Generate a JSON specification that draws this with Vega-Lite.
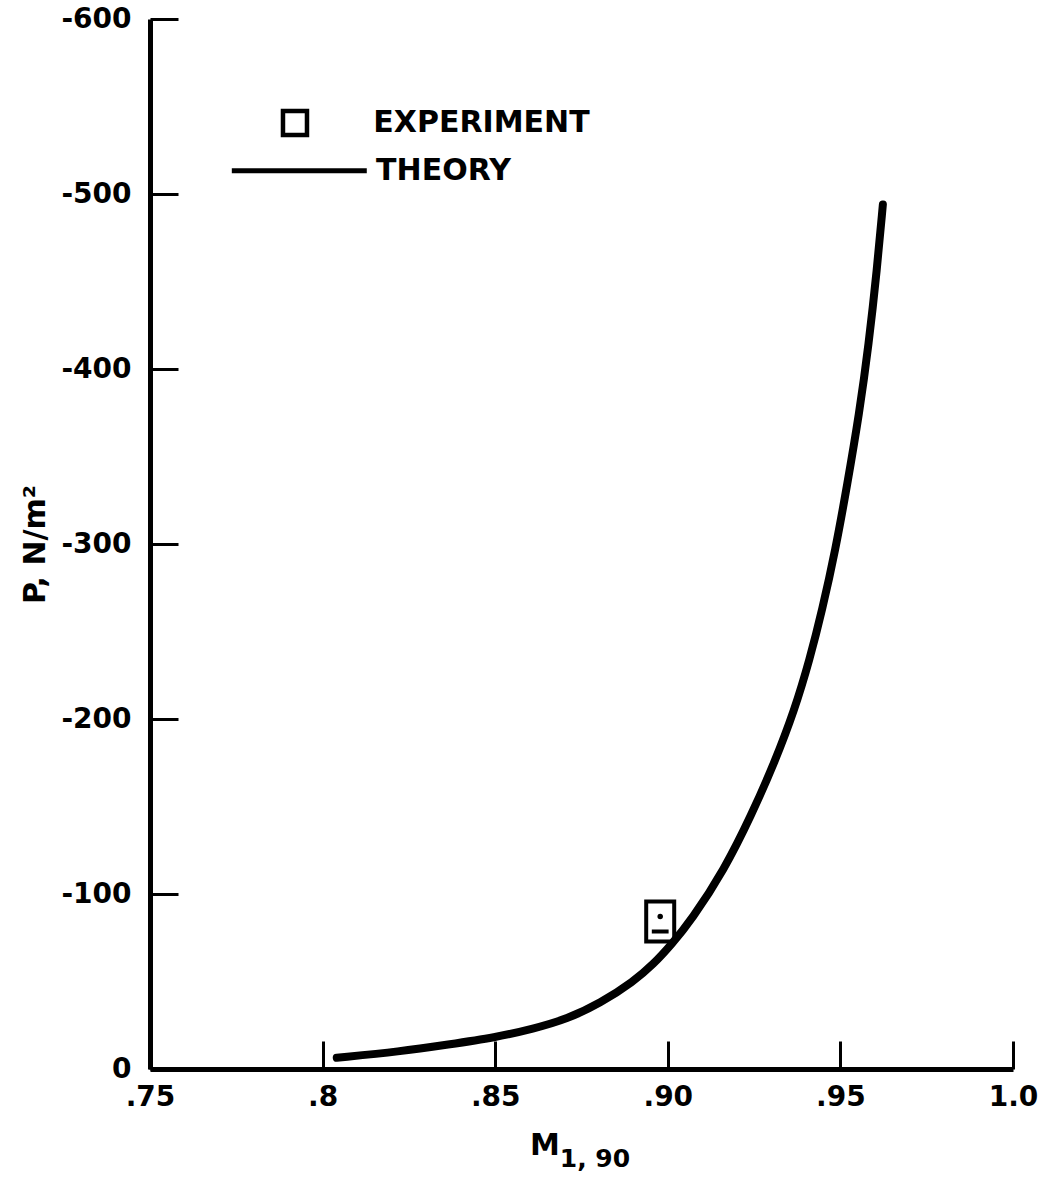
{
  "$schema": "https://vega.github.io/schema/vega-lite/v6.json",
  "autosize": {"type": "none"},
  "width": 863,
  "height": 1050,
  "padding": {"left": 150, "top": 19, "right": 25, "bottom": 110},
  "background": "white",
  "config": {
    "view": {"stroke": null},
    "font": "DejaVu Sans",
    "axis": {
      "domainColor": "black",
      "domainWidth": 5,
      "tickColor": "black",
      "tickWidth": 3,
      "grid": false,
      "labelColor": "black",
      "labelFont": "DejaVu Sans",
      "labelFontWeight": "bold",
      "labelFontSize": 28,
      "labelFlush": false,
      "labelOverlap": false,
      "titleColor": "black",
      "titleFont": "DejaVu Sans",
      "titleFontWeight": "bold",
      "titleFontSize": 30
    }
  },
  "datasets": {
    "theory": [
      {"M": 0.8041, "P": -6.4},
      {"M": 0.8225, "P": -10},
      {"M": 0.8364, "P": -14},
      {"M": 0.85, "P": -18},
      {"M": 0.8611, "P": -23},
      {"M": 0.8708, "P": -28.5},
      {"M": 0.8804, "P": -37.5},
      {"M": 0.8901, "P": -50},
      {"M": 0.8959, "P": -60},
      {"M": 0.901, "P": -71},
      {"M": 0.9068, "P": -85},
      {"M": 0.9164, "P": -114},
      {"M": 0.9242, "P": -145},
      {"M": 0.9309, "P": -175},
      {"M": 0.9367, "P": -205},
      {"M": 0.9411, "P": -234},
      {"M": 0.9447, "P": -262},
      {"M": 0.9486, "P": -297},
      {"M": 0.9519, "P": -333},
      {"M": 0.9555, "P": -375},
      {"M": 0.9582, "P": -414},
      {"M": 0.9606, "P": -457},
      {"M": 0.9623, "P": -494}
    ],
    "experiment": [
      {"M": 0.8978, "P": -84.3}
    ],
    "anno": [{}]
  },
  "layer": [
    {
      "data": {"name": "theory"},
      "mark": {"type": "line", "color": "black", "strokeWidth": 8, "strokeCap": "round", "strokeJoin": "round", "interpolate": "basis"},
      "encoding": {
        "x": {
          "field": "M", "type": "quantitative",
          "scale": {"domain": [0.75, 1.0], "nice": false, "zero": false},
          "axis": {
            "values": [0.75, 0.8, 0.85, 0.9, 0.95, 1.0],
            "labelExpr": "datum.value < 0.76 ? '.75' : datum.value < 0.81 ? '.8' : datum.value < 0.86 ? '.85' : datum.value < 0.91 ? '.90' : datum.value < 0.96 ? '.95' : '1.0'",
            "tickSize": -28,
            "labelPadding": 42,
            "title": null
          }
        },
        "y": {
          "field": "P", "type": "quantitative",
          "scale": {"domain": [-600, 0], "reverse": true, "nice": false, "zero": false},
          "axis": {
            "values": [-600, -500, -400, -300, -200, -100, 0],
            "labelExpr": "datum.value == 0 ? '0' : '-' + format(-datum.value, 'd')",
            "tickSize": -28,
            "labelPadding": 47,
            "title": "P, N/m²",
            "titlePadding": 10
          }
        }
      }
    },
    {
      "data": {"name": "experiment"},
      "mark": {"type": "point", "shape": "M-0.7,-1H0.7V1H-0.7Z M-0.42,0.5H0.42", "size": 1600, "filled": false, "stroke": "black", "strokeWidth": 4, "opacity": 1},
      "encoding": {
        "x": {"field": "M", "type": "quantitative"},
        "y": {"field": "P", "type": "quantitative"}
      }
    },
    {
      "data": {"name": "experiment"},
      "mark": {"type": "point", "shape": "circle", "size": 30, "filled": true, "color": "black", "opacity": 1, "yOffset": -5},
      "encoding": {
        "x": {"field": "M", "type": "quantitative"},
        "y": {"field": "P", "type": "quantitative"}
      }
    },
    {
      "data": {"name": "anno"},
      "mark": {"type": "point", "shape": "square", "size": 576, "filled": false, "stroke": "black", "strokeWidth": 4.5, "opacity": 1},
      "encoding": {
        "x": {"datum": 0.792, "type": "quantitative"},
        "y": {"datum": -540.6, "type": "quantitative"}
      }
    },
    {
      "data": {"name": "anno"},
      "mark": {"type": "rule", "color": "black", "strokeWidth": 5},
      "encoding": {
        "x": {"datum": 0.7737, "type": "quantitative"},
        "x2": {"datum": 0.8128},
        "y": {"datum": -513.3, "type": "quantitative"}
      }
    },
    {
      "data": {"name": "anno"},
      "mark": {"type": "text", "text": "EXPERIMENT", "align": "left", "baseline": "middle", "font": "DejaVu Sans", "fontWeight": "bold", "fontSize": 30, "color": "black"},
      "encoding": {
        "x": {"datum": 0.8147, "type": "quantitative"},
        "y": {"datum": -540.6, "type": "quantitative"}
      }
    },
    {
      "data": {"name": "anno"},
      "mark": {"type": "text", "text": "THEORY", "align": "left", "baseline": "middle", "font": "DejaVu Sans", "fontWeight": "bold", "fontSize": 30, "color": "black"},
      "encoding": {
        "x": {"datum": 0.8155, "type": "quantitative"},
        "y": {"datum": -513.3, "type": "quantitative"}
      }
    },
    {
      "data": {"name": "anno"},
      "mark": {"type": "text", "text": "M", "align": "left", "baseline": "alphabetic", "font": "DejaVu Sans", "fontWeight": "bold", "fontSize": 30, "color": "black"},
      "encoding": {
        "x": {"datum": 0.8601, "type": "quantitative"},
        "y": {"datum": 49, "type": "quantitative"}
      }
    },
    {
      "data": {"name": "anno"},
      "mark": {"type": "text", "text": "1, 90", "align": "left", "baseline": "alphabetic", "font": "DejaVu Sans", "fontWeight": "bold", "fontSize": 25, "color": "black"},
      "encoding": {
        "x": {"datum": 0.8687, "type": "quantitative"},
        "y": {"datum": 55.8, "type": "quantitative"}
      }
    }
  ]
}
